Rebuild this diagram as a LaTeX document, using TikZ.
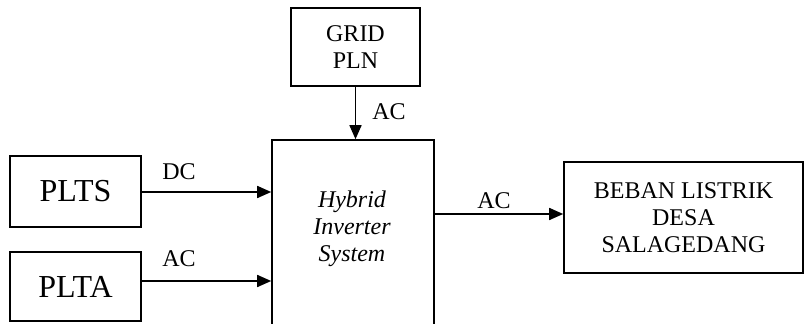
\documentclass[tikz,border=0pt]{standalone}
\usepackage{fontspec}
\setmainfont{Liberation Serif}
\usetikzlibrary{arrows.meta}
\begin{document}
\begin{tikzpicture}[x=1pt,y=1pt,
  blk/.style={draw,line width=1.6pt,inner sep=0pt,align=center,font=\fontsize{24}{27}\selectfont},
  big/.style={font=\fontsize{32}{36}\selectfont},
  lbl/.style={inner sep=0pt,font=\fontsize{24}{27}\selectfont},
  arr/.style={line width=1.6pt,-{Triangle[length=14pt,width=12pt]}}]
\useasboundingbox (0,0) rectangle (804,324);
\clip (0,0) rectangle (804,324);
\fill[white] (0,0) rectangle (804,324);
\node[blk,minimum width=129pt,minimum height=78pt] (grid) at (355.5,277) {GRID\\PLN};
\node[blk,minimum width=162pt,minimum height=200pt] (inv) at (353,84) {};
\node[lbl,align=center,font=\fontsize{24}{27}\selectfont\itshape] (invlabel) at (352,95) {Hybrid\\Inverter\\System};
\node[blk,big,minimum width=131pt,minimum height=71pt] (plts) at (75.5,132.5) {PLTS};
\node[blk,big,minimum width=131pt,minimum height=69pt] (plta) at (75.5,37.5) {PLTA};
\node[blk,minimum width=239pt,minimum height=111pt] (beban) at (683.5,106.5) {BEBAN LISTRIK\\DESA\\SALAGEDANG};
\coordinate (pltsout) at (plts.east |- 0,132);
\coordinate (pltaout) at (plta.east |- 0,43);
\coordinate (invout) at (inv.east |- 0,110);
\draw[arr] (grid.south) -- (grid.south |- inv.north);
\draw[arr] (pltsout) -- (pltsout -| inv.west);
\draw[arr] (pltaout) -- (pltaout -| inv.west);
\draw[arr] (invout) -- (invout -| beban.west);
\node[lbl] (dc) at (179,152) {DC};
\node[lbl] (acplta) at (179,65) {AC};
\node[lbl] (acgrid) at (389,212) {AC};
\node[lbl] (acout) at (494,123) {AC};
\end{tikzpicture}
\end{document}
